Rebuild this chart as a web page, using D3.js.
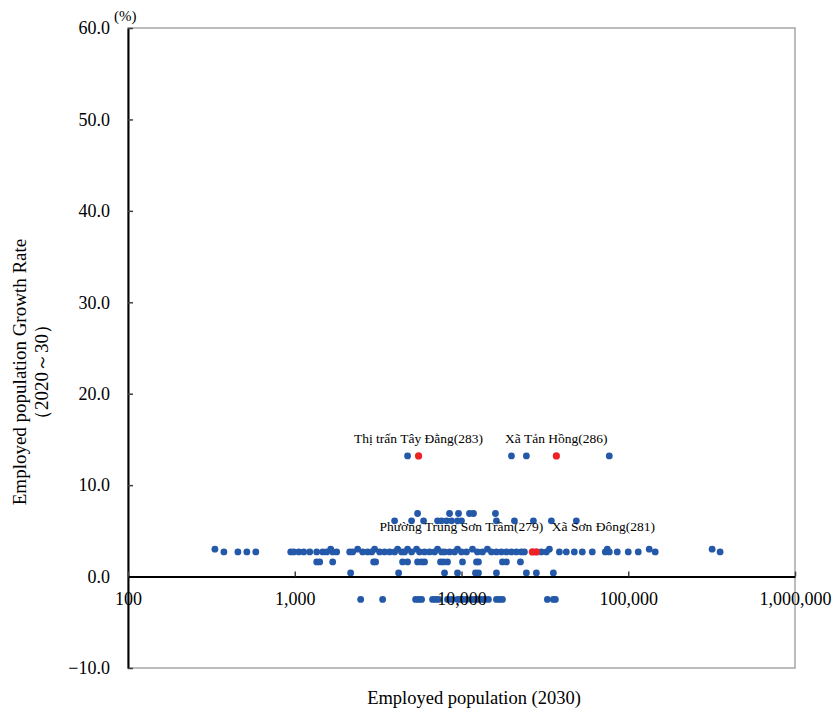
<!DOCTYPE html>
<html>
<head>
<meta charset="utf-8">
<script src="https://cdn.jsdelivr.net/npm/d3@7"></script>
<style>
  html, body { margin: 0; padding: 0; background: #fff; }
  svg { display: block; }
  text { font-family: "Liberation Serif", "Times New Roman", serif; fill: #000; }
</style>
</head>
<body>
<svg id="chart" width="835" height="715"></svg>
<script>
// Employed population in 2030 (x) against growth rate 2020-30 in % (y), one list per rate band
const bandRates = [13.2, 6.9, 6.1, 3.0, 2.7, 1.6, 0.4, -2.5];

const popAt13_2 = [4750, 19930, 24500, 76970];
const popAt6_9 = [5452, 8477, 9594, 11170, 11800, 15980];
const popAt6_1 = [3971, 5019, 5922, 7184, 7591, 8132, 8713, 9466, 10000, 16200, 20770, 26990, 34590, 48830];
const popAt3_0 = [332, 1643, 2384, 3013, 4139, 4750, 5378, 7184, 9466, 11640, 14310, 33650, 74870, 133600, 318400];
const popAt2_7 = [376, 456, 516, 584, 946, 986, 1057, 1132, 1230, 1354, 1472, 1555, 1689, 1784,
  2135, 2225, 2554, 2736, 2892, 3228, 3459, 3706, 3971, 4372, 4557, 5019, 5605, 6004, 6433, 6893,
  7591, 7912, 8477, 9082, 10000, 10712, 12470, 13360, 15120, 16200, 17360, 18600, 19930, 21350,
  22870, 23840, 30130, 32280, 38630, 42540, 47500, 53040, 60870, 72840, 76970, 85940, 100000,
  114800, 145100, 355500];
const popAt1_6 = [1354, 1411, 1689, 2972, 3055, 4433, 4750, 5452, 5761, 6004, 7487, 7804, 8245,
  10140, 12300, 12640, 17600, 18600, 22560];
const popAt0_4 = [2164, 4196, 7912, 9466, 12130, 12640, 16200, 24500, 28130, 35550];
const popAtMinus2_5 = [2485, 3365, 5304, 5527, 5761, 6706, 6989, 7284, 8245, 8713, 9466, 9863, 10140,
  10712, 11480, 11960, 12470, 13180, 13730, 14510, 16200, 16890, 17600, 32730, 35550, 36550];

// Highlighted communes
const namedUnits = ["Thị trấn Tây Đằng(283)", "Xã Tản Hồng(286)", "Phường Trung Sơn Trầm(279)", "Xã Sơn Đông(281)"];
const namedPop = [5527, 37060, 26610, 28130];
const namedRate = [13.2, 13.2, 2.7, 2.7];

const xTicks = [100, 1000, 10000, 100000, 1000000];
const yTicks = [-10, 0, 10, 20, 30, 40, 50, 60];

// ---- layout ----
const svg = d3.select("#chart");
const plotLeft = 128, plotRight = 795, plotTop = 28, plotBottom = 668;

const x = d3.scaleLog().domain([100, 1000000]).range([plotLeft, plotRight]);
const y = d3.scaleLinear().domain([-10, 60]).range([plotBottom, plotTop]);

const bands = [popAt13_2, popAt6_9, popAt6_1, popAt3_0, popAt2_7, popAt1_6, popAt0_4, popAtMinus2_5];
const points = [];
bands.forEach((list, i) => list.forEach(p => points.push({ pop: p, rate: bandRates[i] })));
const named = namedUnits.map((n, i) => ({ name: n, pop: namedPop[i], rate: namedRate[i] }));

// plot frame
svg.append("rect")
  .attr("x", plotLeft).attr("y", plotTop)
  .attr("width", plotRight - plotLeft).attr("height", plotBottom - plotTop)
  .attr("fill", "none").attr("stroke", "#a6a6a6").attr("stroke-width", 1.5);

// y axis
const yAxis = svg.append("g")
  .attr("transform", `translate(${plotLeft},0)`)
  .call(d3.axisLeft(y).tickValues(yTicks).tickFormat(d3.format(".1f"))
    .tickSize(-5).tickPadding(18).tickSizeOuter(0));
yAxis.select(".domain").attr("stroke", "#000").attr("stroke-width", 2);
yAxis.selectAll(".tick line").attr("stroke", "#404040").attr("stroke-width", 1.5);
yAxis.selectAll(".tick text").attr("font-size", 18).attr("font-family", "Liberation Serif");

// points
svg.append("g").selectAll("circle")
  .data(points).join("circle")
  .attr("cx", d => x(d.pop)).attr("cy", d => y(d.rate))
  .attr("r", 3.4).attr("fill", "#2458a8");

svg.append("g").selectAll("circle")
  .data(named).join("circle")
  .attr("cx", d => x(d.pop)).attr("cy", d => y(d.rate))
  .attr("r", 3.6).attr("fill", "#ec2227");

// x axis through zero
const xAxis = svg.append("g")
  .attr("transform", `translate(0,${y(0)})`)
  .call(d3.axisBottom(x).tickValues(xTicks).tickFormat(d3.format(","))
    .tickSize(-5).tickPadding(16).tickSizeOuter(0));
xAxis.select(".domain").attr("stroke", "#000").attr("stroke-width", 2);
xAxis.selectAll(".tick line").attr("stroke", "#404040").attr("stroke-width", 1.5);
xAxis.selectAll(".tick text").attr("font-size", 18).attr("font-family", "Liberation Serif");

// point name labels (the lower pair spread apart to avoid overlap)
const labelShift = [[0, -13], [0, -13], [-71, -21], [67, -21]];
svg.append("g").selectAll("text")
  .data(named).join("text")
  .attr("x", (d, i) => x(d.pop) + labelShift[i][0])
  .attr("y", (d, i) => y(d.rate) + labelShift[i][1])
  .attr("text-anchor", "middle")
  .attr("font-size", 13.5)
  .text(d => d.name);

// unit mark
svg.append("text")
  .attr("x", 114).attr("y", 21)
  .attr("font-size", 15)
  .text("(%)");

// axis titles
svg.append("text")
  .attr("x", 474).attr("y", 704)
  .attr("text-anchor", "middle")
  .attr("font-size", 18.5)
  .text("Employed population (2030)");

const yTitle = svg.append("text")
  .attr("transform", "translate(26,372) rotate(-90)")
  .attr("text-anchor", "middle")
  .attr("font-size", 19);
yTitle.append("tspan").attr("x", 0).attr("dy", 0).text("Employed population Growth Rate");
yTitle.append("tspan").attr("x", 0).attr("dy", 22).text("（2020～30）");
</script>
</body>
</html>
